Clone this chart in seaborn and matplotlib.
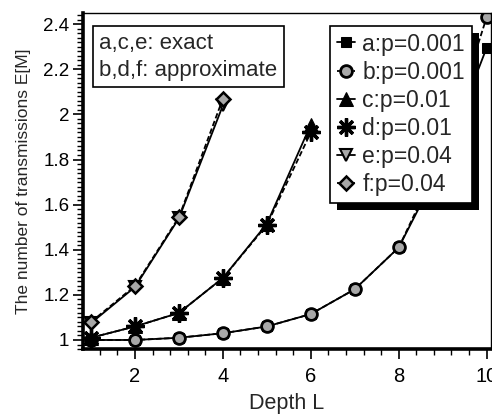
import matplotlib
matplotlib.use("Agg")
import matplotlib.pyplot as plt
import matplotlib.patheffects as pe
from matplotlib.ticker import MultipleLocator
import seaborn as sns

# Depth values and mean number of transmissions per series
depth_001 = [1, 2, 3, 4, 5, 6, 7, 8, 9, 10]
a_exact_001 = [1.0, 1.0, 1.01, 1.03, 1.06, 1.115, 1.225, 1.41, 1.79, 2.295]
b_approx_001 = [1.0, 1.0, 1.01, 1.03, 1.06, 1.115, 1.225, 1.41, 1.82, 2.43]

depth_01 = [1, 2, 3, 4, 5, 6]
c_exact_01 = [1.01, 1.06, 1.12, 1.275, 1.515, 1.955]
d_approx_01 = [1.01, 1.06, 1.12, 1.275, 1.51, 1.92]

depth_04 = [1, 2, 3, 4]
e_exact_04 = [1.075, 1.235, 1.54, 2.04]
f_approx_04 = [1.08, 1.24, 1.545, 2.07]

labels = ["a:p=0.001", "b:p=0.001", "c:p=0.01", "d:p=0.01", "e:p=0.04", "f:p=0.04"]
note_lines = ["a,c,e: exact", "b,d,f: approximate"]
x_label = "Depth L"
y_label = "The number of transmissions E[M]"

sns.set_style("white")
plt.rcParams["font.family"] = ["Liberation Sans", "DejaVu Sans"]

fig = plt.figure(figsize=(4.92, 4.15), dpi=100)
ax = fig.add_axes([0.169, 0.159, 0.829, 0.810])

gray = "#a8a8a8"
series = [
    (depth_001, a_exact_001, dict(marker="s", markerfacecolor="black", markersize=7.5, linestyle="-")),
    (depth_001, b_approx_001, dict(marker="o", markerfacecolor=gray, markersize=8.5, markeredgewidth=2, linestyle=(0, (3, 1.5)))),
    (depth_01, c_exact_01, dict(marker="^", markerfacecolor="black", markersize=10, linestyle="-")),
    (depth_01, d_approx_01, dict(marker=(8, 2, 0), markersize=13, markeredgewidth=2.4, linestyle=(0, (3, 1.5)))),
    (depth_04, e_exact_04, dict(marker="v", markerfacecolor=gray, markersize=8.5, markeredgewidth=1.5, linestyle="-")),
    (depth_04, f_approx_04, dict(marker="D", markerfacecolor=gray, markersize=7.5, markeredgewidth=1.8, linestyle=(0, (3, 1.5)))),
]

for (xs, ys, style), lab in zip(series, labels):
    sns.lineplot(x=xs, y=ys, ax=ax, color="black", markeredgecolor="black",
                 linewidth=1.3, label=lab, **style)

ax.set_xlim(0.82, 10.1)
ax.set_ylim(0.96, 2.45)
ax.set_xticks([2, 4, 6, 8, 10])
ax.set_yticks([1, 1.2, 1.4, 1.6, 1.8, 2.0, 2.2, 2.4])
ax.set_yticklabels(["1", "1.2", "1.4", "1.6", "1.8", "2", "2.2", "2.4"])
ax.xaxis.set_minor_locator(MultipleLocator(0.4))
ax.yaxis.set_minor_locator(MultipleLocator(0.02))
ax.tick_params(axis="both", which="major", direction="out", length=7, width=1.2,
               color="black", labelcolor="black", bottom=True, left=True)
ax.tick_params(axis="both", which="minor", direction="out", length=4, width=1,
               color="black", bottom=True, left=True)
ax.tick_params(axis="x", which="major", labelsize=14.5, pad=6)
ax.tick_params(axis="y", which="major", labelsize=13.5, pad=3)

for side in ("left", "bottom"):
    ax.spines[side].set_linewidth(2.6)
for side in ("top", "right"):
    ax.spines[side].set_linewidth(1.0)
for s in ax.spines.values():
    s.set_color("black")

ax.set_xlabel(x_label, fontsize=15.5, labelpad=5)
ax.set_ylabel(y_label, fontsize=12.5, labelpad=9)

leg = ax.legend(loc="upper right", bbox_to_anchor=(0.953, 0.962), frameon=True,
                fontsize=16.5, handlelength=0.8, handletextpad=0.3,
                labelspacing=0.22, borderpad=0.3, borderaxespad=0, fancybox=False)
frame = leg.get_frame()
frame.set_edgecolor("black")
frame.set_linewidth(1.2)
frame.set_alpha(1)
frame.set_path_effects([pe.SimplePatchShadow(offset=(5, -5), shadow_rgbFace="black", alpha=1),
                        pe.Normal()])

ax.text(0.04, 0.94, "\n".join(note_lines), transform=ax.transAxes, ha="left", va="top",
        fontsize=16, linespacing=1.35,
        bbox=dict(boxstyle="square,pad=0.3", facecolor="white", edgecolor="black", linewidth=1.2))

fig.savefig("out.png", dpi=100)
